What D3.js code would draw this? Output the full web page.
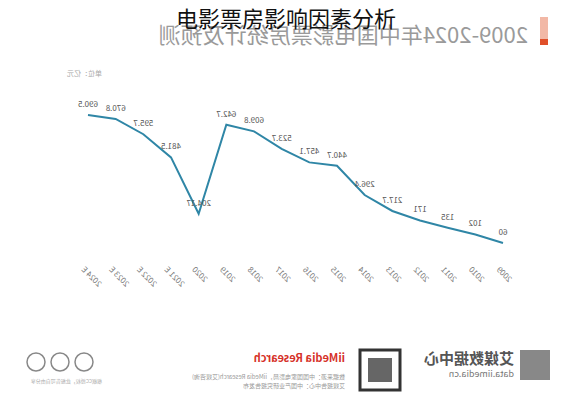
<!DOCTYPE html>
<html><head><meta charset="utf-8">
<script src="https://cdn.jsdelivr.net/npm/d3@7"></script>
<style>body{margin:0;background:#fff;font-family:"Noto Sans CJK SC","Noto Sans",sans-serif;}</style>
</head><body>
<script>
// data in chronological order; the reference picture is mirrored left-right
let years = ['2009', '2010', '2011', '2012', '2013', '2014', '2015', '2016', '2017', '2018', '2019', '2020', '2021 E', '2022 E', '2023 E', '2024 E'];
let boxOffice = [60, 102, 135, 171, 217.7, 296.4, 440.7, 457.1, 523.7, 609.8, 642.7, 204.17, 481.5, 595.7, 670.8, 690.5];

let W = 572, H = 400;
let svg = d3.select('body').append('svg').attr('width', W).attr('height', H);

// everything except the overlay title is drawn mirrored
let g = svg.append('g').attr('transform', 'translate(' + W + ',0) scale(-1,1)');

g.append('rect').attr('x', 24).attr('y', 17).attr('width', 8).attr('height', 28).attr('fill', '#f2b8a6');
g.append('rect').attr('x', 24).attr('y', 39).attr('width', 8).attr('height', 6).attr('fill', '#e0502a');
g.append('text').attr('x', 44).attr('y', 43)
    .attr('style', 'font-size: 22px; fill: #9a9a9a;')
    .text('2009-2024年中国电影票房统计及预测');

g.append('text').attr('x', 470).attr('y', 76)
    .attr('style', 'font-size: 7px; fill: #aaa;')
    .text('单位：亿元');

let x = d3.scalePoint().domain(years).range([69, 484]);
let y = d3.scaleLinear().domain([60, 690.5]).range([243, 115]);

g.append('path')
    .datum(boxOffice)
    .attr('fill', 'none')
    .attr('stroke', '#2f86a6')
    .attr('stroke-width', 2)
    .attr('d', d3.line().x((d, i) => x(years[i])).y(d => y(d)));

g.selectAll('.lbl').data(boxOffice).enter().append('text')
    .attr('x', (d, i) => x(years[i]))
    .attr('y', d => y(d) - 8)
    .attr('text-anchor', 'middle')
    .attr('style', 'font-size: 8px; fill: #555;')
    .text(d => d);

g.selectAll('.tick').data(years).enter().append('text')
    .attr('text-anchor', 'end')
    .attr('transform', d => 'translate(' + (x(d) + 7) + ',270) rotate(-45)')
    .attr('style', 'font-size: 8px; fill: #777;')
    .text(d => d);

// footer
g.append('rect').attr('x', 22).attr('y', 350).attr('width', 30).attr('height', 30).attr('fill', '#888');
g.append('text').attr('x', 58).attr('y', 364).attr('style', 'font-size: 15px; font-weight: bold; fill: #555;').text('艾媒数据中心');
g.append('text').attr('x', 58).attr('y', 377).attr('style', 'font-size: 9px; fill: #777;').text('data.iimedia.cn');
g.append('rect').attr('x', 172).attr('y', 350).attr('width', 40).attr('height', 40).attr('fill', '#fff').attr('stroke', '#333').attr('stroke-width', 3);
g.append('rect').attr('x', 180).attr('y', 358).attr('width', 24).attr('height', 24).attr('fill', '#666');
g.append('text').attr('x', 227).attr('y', 362).attr('style', 'font-size: 11px; font-weight: bold; fill: #d6322a;').text('iiMedia Research');
g.append('text').attr('x', 227).attr('y', 379).attr('style', 'font-size: 6px; fill: #999;').text('数据来源：中国国家电影局，iiMedia Research(艾媒咨询)');
g.append('text').attr('x', 227).attr('y', 388).attr('style', 'font-size: 6px; fill: #999;').text('艾媒报告中心：中国产业研究报告发布');
g.append('text').attr('x', 470).attr('y', 383).attr('style', 'font-size: 5px; fill: #aaa;').text('根据CC授权，此报告可自由分享');
[488, 512, 536].forEach(cx => {
    g.append('circle').attr('cx', cx).attr('cy', 362).attr('r', 9)
        .attr('fill', 'none').attr('stroke', '#888').attr('stroke-width', 1.5);
});

svg.append('text').attr('x', 286).attr('y', 27).attr('text-anchor', 'middle')
    .attr('style', 'font-size: 22px; fill: #111;')
    .text('电影票房影响因素分析');
</script>
</body></html>
